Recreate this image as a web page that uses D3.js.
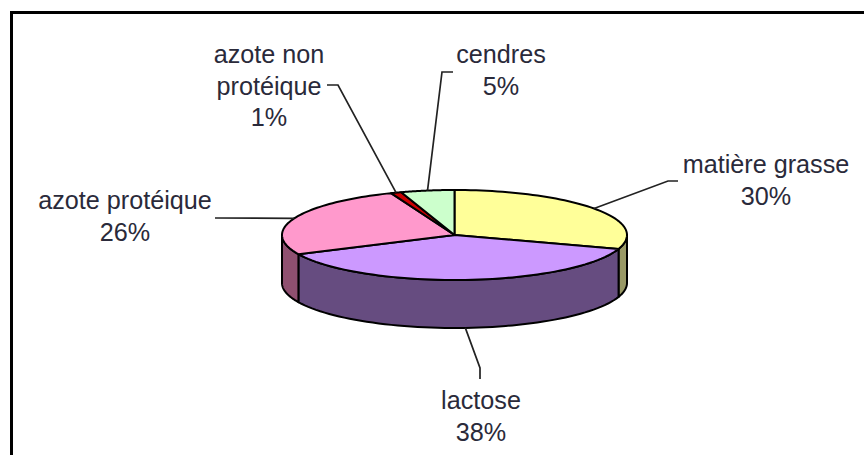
<!DOCTYPE html>
<html><head><meta charset="utf-8">
<script src="https://cdn.jsdelivr.net/npm/d3@7"></script>
<style>html,body{margin:0;padding:0;background:#fff;overflow:hidden}svg{display:block}text{font-family:"Liberation Sans",Arial,sans-serif;fill:#2a2a3a;text-anchor:middle}</style>
</head><body>
<svg id="c" width="864" height="455"></svg>
<script>
const categories = ["matière grasse","lactose","azote protéique","azote non protéique","cendres"];
const values = [30,38,26,1,5];
const labelLines = [["matière grasse","30%"],["lactose","38%"],["azote protéique","26%"],["azote non","protéique","1%"],["cendres","5%"]];
const topColors = ["#FFFF99","#CC99FF","#FF99CC","#CC0000","#CCFFCC"];
const sideColors = ["#999966","#664C80","#8F5070","#660000","#668066"];

const W=864,H=455, cx=454.5, cy=235, rx=172.5, ry=45, depth=48;
const svg=d3.select("#c");
svg.append("rect").attr("width",W).attr("height",H).attr("fill","#fff");
// frame
svg.append("path").attr("d","M11.5,455V12.5H864").attr("fill","none").attr("stroke","#000").attr("stroke-width",3);

const pie=d3.pie().sort(null).value(d=>d);
const arcs=pie(values);
const px=d3.scaleLinear().domain([-1,1]).range([cx-rx,cx+rx]);
const py=d3.scaleLinear().domain([-1,1]).range([cy-ry,cy+ry]);
const X=a=>px(Math.sin(a)), Y=a=>py(-Math.cos(a));
const line=d3.line();

const g=svg.append("g").attr("stroke","#000").attr("stroke-width",2).attr("stroke-linejoin","round");
// visible outer walls: front half of ellipse between PI/2 and 3PI/2
const lo=Math.PI/2, hi=3*Math.PI/2;
arcs.forEach((d,i)=>{
  const a0=Math.max(d.startAngle,lo), a1=Math.min(d.endAngle,hi);
  if(a1<=a0) return;
  const ang=d3.range(0,61).map(k=>a0+(a1-a0)*k/60);
  const pts=ang.map(a=>[X(a),Y(a)]).concat(ang.slice().reverse().map(a=>[X(a),Y(a)+depth]));
  g.append("path").attr("d",line(pts)+"Z").attr("fill",sideColors[i]);
});
// top faces
arcs.forEach((d,i)=>{
  const ang=d3.range(0,61).map(k=>d.startAngle+(d.endAngle-d.startAngle)*k/60);
  const pts=[[cx,cy]].concat(ang.map(a=>[X(a),Y(a)]));
  g.append("path").attr("d",line(pts)+"Z").attr("fill",topColors[i]);
});

// leader lines start at each slice's mid-angle on the rim
const leaderBends=[[[668,181],[678,181]],[[480,368],[480,379]],[[215,218]],[[338,85],[327,85]],[[442,72],[453,72]]];
const lg=svg.append("g").attr("fill","none").attr("stroke","#222").attr("stroke-width",1.7);
arcs.forEach((d,i)=>{
  const m=(d.startAngle+d.endAngle)/2;
  const start=[X(m),Y(m)+(Math.cos(m)<0?depth:0)];
  lg.append("path").attr("d",line([start,...leaderBends[i]]));
});

// labels
const labelCenters=[[766,173],[481,409],[125,209],[269,63],[501,63]];
const lineGap=31.5;
labelLines.forEach((ls,i)=>{
  const t=svg.append("text").attr("font-size",25.2);
  ls.forEach((s,j)=>t.append("tspan").attr("x",labelCenters[i][0]).attr("y",labelCenters[i][1]+j*lineGap).text(s));
});
</script>
</body></html>
